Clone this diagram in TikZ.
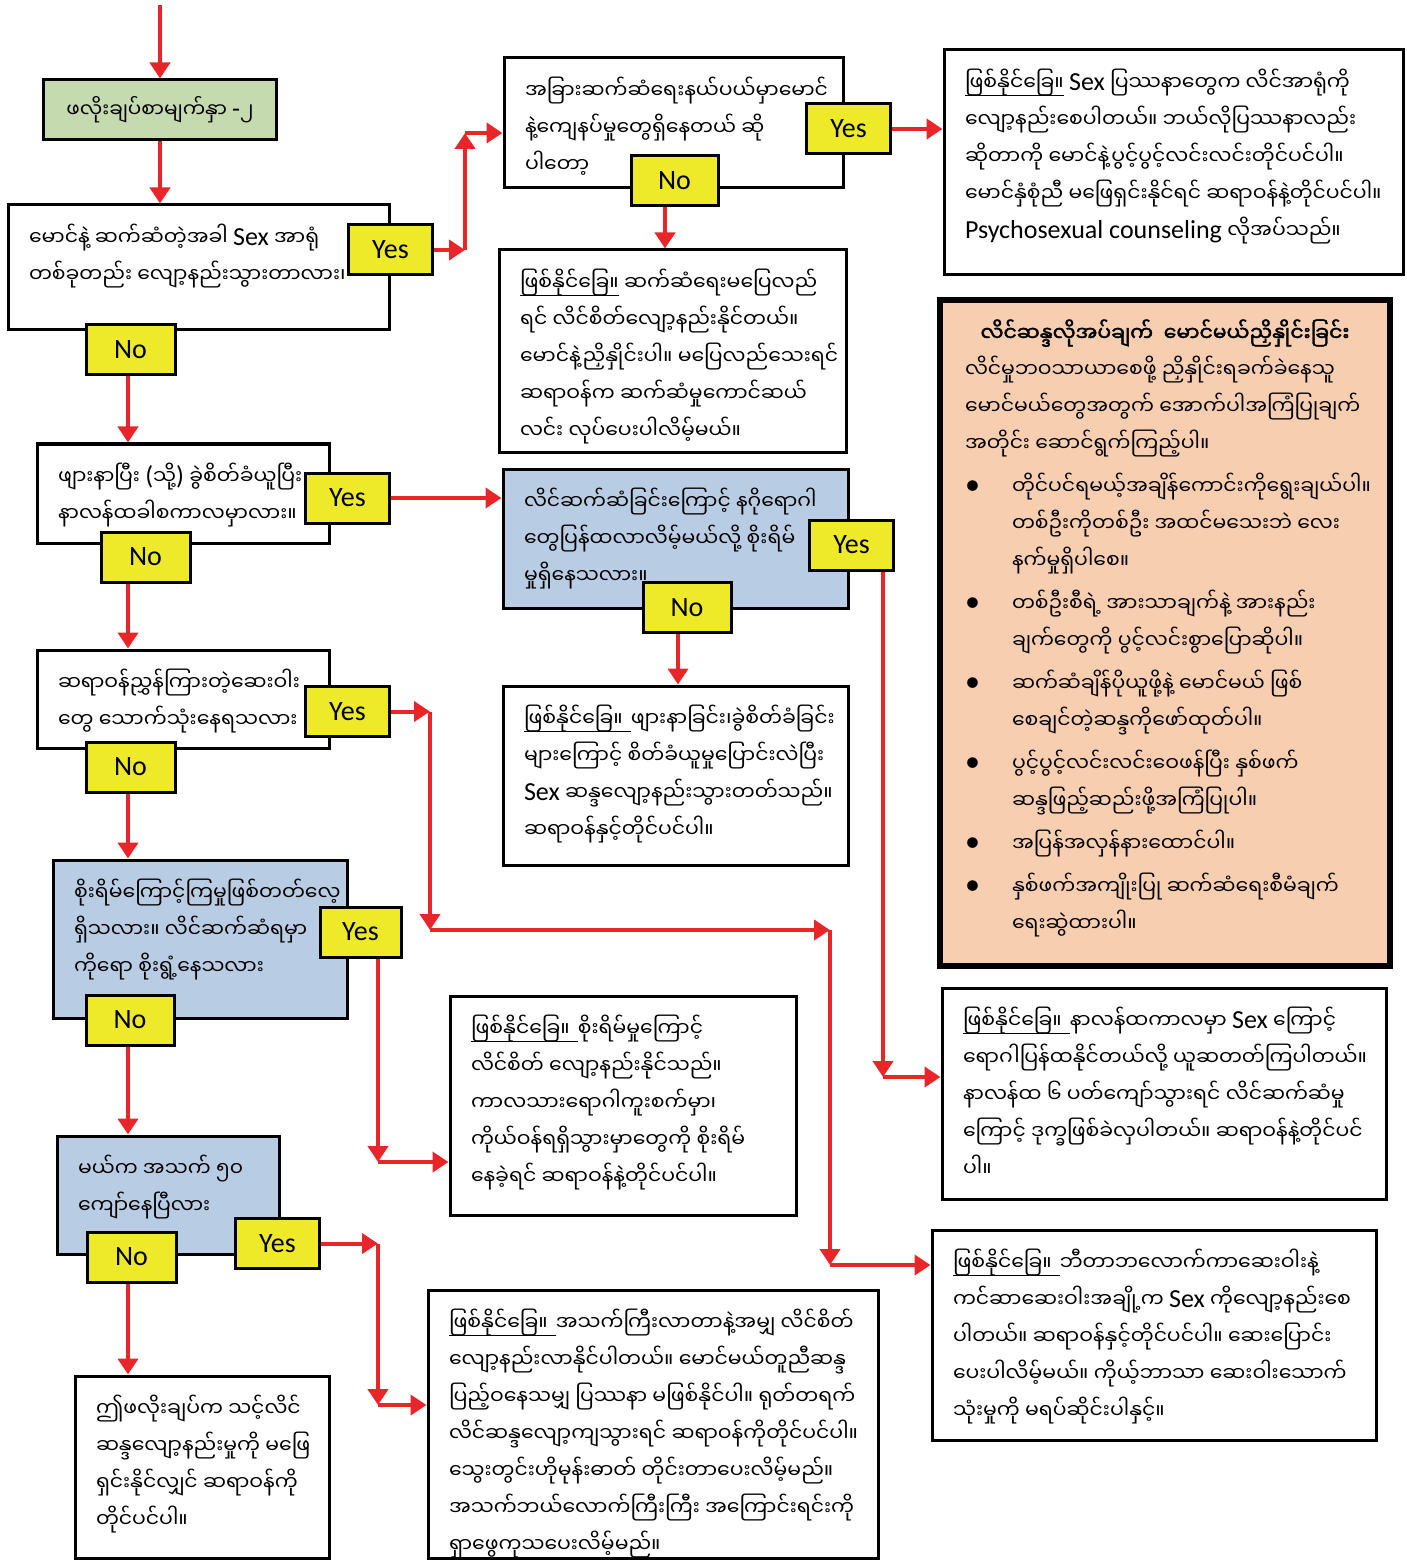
\documentclass[tikz,border=0pt]{standalone}
\usepackage{fontspec}
\usepackage{tikz}
\usetikzlibrary{arrows.meta}
\newfontfamily\mm[Script=Myanmar,AutoFakeBold=2]{Noto Sans Myanmar UI}
\newfontfamily\en{Carlito}
\definecolor{arrowred}{RGB}{232,38,42}
\definecolor{labyellow}{RGB}{238,234,42}
\definecolor{boxgreen}{RGB}{198,218,176}
\definecolor{boxblue}{RGB}{184,204,228}
\definecolor{boxpeach}{RGB}{247,206,176}
\newcommand{\lat}[1]{{\en\fontsize{13}{18.5}\selectfont #1}}
\newcommand{\risk}[1][0pt]{\setbox0\hbox{ဖြစ်နိုင်ခြေ။\hspace{#1}}\rlap{\rule[-2.5pt]{\wd0}{0.6pt}}\box0}
\newcommand{\boxtxt}[3]{\parbox[c][#2][t]{#1}{\mm\fontsize{10.2}{18.5}\selectfont\vspace*{2.5pt}\begin{tabular}[t]{@{}l@{}}#3\end{tabular}}}
\newcommand{\bul}{\makebox[23.5pt][l]{\en\fontsize{15}{15}\selectfont\textbullet}}

\begin{document}
\begin{tikzpicture}[x=0.5pt,y=-0.5pt,
  box/.style={draw,line width=1.5pt,fill=white,inner xsep=10.5pt,inner ysep=5pt},
  yn/.style={draw,line width=1.5pt,fill=labyellow,minimum width=42pt,minimum height=25pt,inner sep=0pt,font=\en\fontsize{14}{14}\selectfont},
  flow/.style={draw=arrowred,line width=2pt,-{Triangle[length=8pt,width=10pt]}}]

\useasboundingbox (0,0) rectangle (1406,1561);

% boxes, left column
\node[box,fill=boxgreen,minimum width=116.5pt,minimum height=30pt,inner sep=0pt,font=\mm\fontsize{10}{13}\selectfont] (B1) at (160,110) {ဖလိုးချပ်စာမျက်နှာ \lat{-}၂};
\node[box] (B2) at (198.5,267.5) {\boxtxt{169.5pt}{52.5pt}{မောင်နဲ့ ဆက်ဆံတဲ့အခါ \lat{Sex} အာရုံ\\ တစ်ခုတည်း လျော့နည်းသွားတာလား၊}};
\node[box] (B7) at (183,493.5) {\boxtxt{125pt}{39.5pt}{ဖျားနာပြီး \lat{(}သို့\lat{)} ခွဲစိတ်ခံယူပြီး\\ နာလန်ထခါစကာလမှာလား။}};
\node[box] (B10) at (183,699) {\boxtxt{125pt}{39pt}{ဆရာဝန်ညွှန်ကြားတဲ့ဆေးဝါး\\ တွေ သောက်သုံးနေရသလား}};
\node[box,fill=boxblue] (B11) at (200,939) {\boxtxt{126pt}{69pt}{စိုးရိမ်ကြောင့်ကြမှုဖြစ်တတ်လေ့\\ ရှိသလား။ လိင်ဆက်ဆံရမှာ\\ ကိုရော စိုးရွံ့နေသလား}};
\node[box,fill=boxblue] (B13) at (168,1195) {\boxtxt{90pt}{49pt}{မယ်က အသက် ၅၀\\ ကျော်နေပြီလား}};
\node[box] (B14) at (202,1467) {\boxtxt{106pt}{81pt}{ဤဖလိုးချပ်က သင့်လိင်\\ ဆန္ဒလျော့နည်းမှုကို မဖြေ\\ ရှင်းနိုင်လျှင် ဆရာဝန်ကို\\ တိုင်ပင်ပါ။}};

% boxes, middle column
\node[box] (B3) at (673.5,123) {\boxtxt{148.5pt}{55pt}{အခြားဆက်ဆံရေးနယ်ပယ်မှာမောင်\\ နဲ့ကျေနပ်မှုတွေရှိနေတယ် ဆို\\ ပါတော့}};
\node[box] (B4) at (672.5,351) {\boxtxt{152.5pt}{91pt}{\risk{} ဆက်ဆံရေးမပြေလည်\\ ရင် လိင်စိတ်လျော့နည်းနိုင်တယ်။\\ မောင်နဲ့ညှိနှိုင်းပါ။ မပြေလည်သေးရင်\\ ဆရာဝန်က ဆက်ဆံမှုကောင်ဆယ်\\ လင်း လုပ်ပေးပါလိမ့်မယ်။}};
\node[box,fill=boxblue] (B8) at (675.5,538.5) {\boxtxt{151.5pt}{59.5pt}{လိင်ဆက်ဆံခြင်းကြောင့် နဂိုရောဂါ\\ တွေပြန်ထလာလိမ့်မယ်လို့ စိုးရိမ်\\ မှုရှိနေသလား။}};
\node[box] (B9) at (675.5,775.5) {\boxtxt{151.5pt}{79.5pt}{\risk[4pt] ဖျားနာခြင်း၊ခွဲစိတ်ခံခြင်း\\ များကြောင့် စိတ်ခံယူမှုပြောင်းလဲပြီး\\ \lat{Sex} ဆန္ဒလျော့နည်းသွားတတ်သည်။\\ ဆရာဝန်နှင့်တိုင်ပင်ပါ။}};
\node[box] (B12) at (623,1105.5) {\boxtxt{152pt}{99.5pt}{\risk[4pt] စိုးရိမ်မှုကြောင့်\\ လိင်စိတ် လျော့နည်းနိုင်သည်။\\ ကာလသားရောဂါကူးစက်မှာ၊\\ ကိုယ်ဝန်ရရှိသွားမှာတွေကို စိုးရိမ်\\ နေခဲ့ရင် ဆရာဝန်နဲ့တိုင်ပင်ပါ။}};
\node[box] (B15) at (653,1424) {\boxtxt{204pt}{124pt}{\risk[4pt] အသက်ကြီးလာတာနဲ့အမျှ လိင်စိတ်\\ လျော့နည်းလာနိုင်ပါတယ်။ မောင်မယ်တူညီဆန္ဒ\\ ပြည့်ဝနေသမျှ ပြဿနာ မဖြစ်နိုင်ပါ။ ရုတ်တရက်\\ လိင်ဆန္ဒလျော့ကျသွားရင် ဆရာဝန်ကိုတိုင်ပင်ပါ။\\ သွေးတွင်းဟိုမုန်းဓာတ် တိုင်းတာပေးလိမ့်မည်။\\ အသက်ဘယ်လောက်ကြီးကြီး အကြောင်းရင်းကို\\ ရှာဖွေကုသပေးလိမ့်မည်။}};

% boxes, right column
\node[box] (B5) at (1173.5,162.5) {\boxtxt{208.5pt}{102.5pt}{\risk{} \lat{Sex} ပြဿနာတွေက လိင်အာရုံကို\\ လျော့နည်းစေပါတယ်။ ဘယ်လိုပြဿနာလည်း\\ ဆိုတာကို မောင်နဲ့ပွင့်ပွင့်လင်းလင်းတိုင်ပင်ပါ။\\ မောင်နှံစုံညီ မဖြေရှင်းနိုင်ရင် ဆရာဝန်နဲ့တိုင်ပင်ပါ။\\ \lat{Psychosexual counseling} လိုအပ်သည်။}};
\node[box,fill=boxpeach,line width=3pt,inner xsep=12.5pt] (B6) at (1165,633) {\boxtxt{200pt}{323pt}{\makebox[200pt][c]{\bfseries လိင်ဆန္ဒလိုအပ်ချက်\ \ မောင်မယ်ညှိနှိုင်းခြင်း}\\ လိင်မှုဘဝသာယာစေဖို့ ညှိနှိုင်းရခက်ခဲနေသူ\\ မောင်မယ်တွေအတွက် အောက်ပါအကြံပြုချက်\\ အတိုင်း ဆောင်ရွက်ကြည့်ပါ။\\[3pt]
  \bul တိုင်ပင်ရမယ့်အချိန်ကောင်းကိုရွေးချယ်ပါ။\\ \hspace*{23.5pt}တစ်ဦးကိုတစ်ဦး အထင်မသေးဘဲ လေး\\ \hspace*{23.5pt}နက်မှုရှိပါစေ။\\[3pt]
  \bul တစ်ဦးစီရဲ့ အားသာချက်နဲ့ အားနည်း\\ \hspace*{23.5pt}ချက်တွေကို ပွင့်လင်းစွာပြောဆိုပါ။\\[3pt]
  \bul ဆက်ဆံချိန်ပိုယူဖို့နဲ့ မောင်မယ် ဖြစ်\\ \hspace*{23.5pt}စေချင်တဲ့ဆန္ဒကိုဖော်ထုတ်ပါ။\\[3pt]
  \bul ပွင့်ပွင့်လင်းလင်းဝေဖန်ပြီး နှစ်ဖက်\\ \hspace*{23.5pt}ဆန္ဒဖြည့်ဆည်းဖို့အကြံပြုပါ။\\[3pt]
  \bul အပြန်အလှန်နားထောင်ပါ။\\[3pt]
  \bul နှစ်ဖက်အကျိုးပြု ဆက်ဆံရေးစီမံချက်\\ \hspace*{23.5pt}ရေးဆွဲထားပါ။}};
\node[box] (B16) at (1164,1093.5) {\boxtxt{201pt}{95.5pt}{\risk[4pt] နာလန်ထကာလမှာ \lat{Sex} ကြောင့်\\ ရောဂါပြန်ထနိုင်တယ်လို့ ယူဆတတ်ကြပါတယ်။\\ နာလန်ထ ၆ ပတ်ကျော်သွားရင် လိင်ဆက်ဆံမှု\\ ကြောင့် ဒုက္ခဖြစ်ခဲလှပါတယ်။ ဆရာဝန်နဲ့တိုင်ပင်\\ ပါ။}};
\node[box] (B17) at (1154,1335) {\boxtxt{201pt}{95pt}{\risk[4pt] ဘီတာဘလောက်ကာဆေးဝါးနဲ့\\ ကင်ဆာဆေးဝါးအချို့က \lat{Sex} ကိုလျော့နည်းစေ\\ ပါတယ်။ ဆရာဝန်နှင့်တိုင်ပင်ပါ။ ဆေးပြောင်း\\ ပေးပါလိမ့်မယ်။ ကိုယ့်ဘာသာ ဆေးဝါးသောက်\\ သုံးမှုကို မရပ်ဆိုင်းပါနှင့်။}};

% yes / no tags
\node[yn] (Y2) at (390.5,250) {Yes};
\node[yn,minimum width=44.5pt] (N2) at (130.5,350) {No};
\node[yn] (Y3) at (848.5,129) {Yes};
\node[yn,minimum width=43.5pt] (N3) at (674.5,181) {No};
\node[yn] (Y7) at (347.5,498) {Yes};
\node[yn,minimum width=44.5pt] (N7) at (145.5,557) {No};
\node[yn] (Y8) at (851.5,545) {Yes};
\node[yn,minimum width=44pt] (N8) at (687,607.5) {No};
\node[yn] (Y10) at (347.5,711.5) {Yes};
\node[yn,minimum width=44.5pt] (N10) at (130.5,767) {No};
\node[yn,minimum width=40.5pt] (Y11) at (360.5,932) {Yes};
\node[yn,minimum width=44pt] (N11) at (130,1020) {No};
\node[yn] (Y13) at (277.5,1243.5) {Yes};
\node[yn,minimum width=44.5pt] (N13) at (131.5,1257) {No};

% lanes and bends
\coordinate (top) at (160,5);
\coordinate (lane) at (128,0);
\coordinate (lane3) at (665,0);
\coordinate (lane8) at (678,0);
\coordinate (j2) at (465,133);
\coordinate (j8) at (883,1077);
\coordinate (j10a) at (430,713);
\coordinate (j10b) at (430,930);
\coordinate (j10c) at (830,930);
\coordinate (j10d) at (830,1265);
\coordinate (j11) at (378,1162);
\coordinate (j13) at (378,1405);

% down the left column
\draw[flow] (top) -- (top |- B1.north);
\draw[flow] (B1.south) -- (B1.south |- B2.north);
\draw[flow] (N2.south -| lane) -- (B7.north -| lane);
\draw[flow] (N7.south -| lane) -- (B10.north -| lane);
\draw[flow] (N10.south -| lane) -- (B11.north -| lane);
\draw[flow] (N11.south -| lane) -- (B13.north -| lane);
\draw[flow] (N13.south -| lane) -- (B14.north -| lane);

% B2 yes
\draw[flow] (Y2.east) -- (Y2.east -| j2);
\draw[flow] (Y2.east -| j2) -- (j2);
\draw[flow] (j2) -- (j2 -| B3.west);
% B3
\draw[flow] (Y3.east) -- (Y3.east -| B5.west);
\draw[flow] (N3.south -| lane3) -- (B4.north -| lane3);
% B7 yes
\draw[flow] (Y7.east) -- (Y7.east -| B8.west);
% B8
\draw[flow] (N8.south -| lane8) -- (B9.north -| lane8);
\draw[flow] (Y8.south -| j8) -- (j8);
\draw[flow] (j8) -- (j8 -| B16.west);
% B10 yes
\draw[flow] (Y10.east) -- (Y10.east -| j10a);
\draw[flow] (Y10.east -| j10a) -- (j10b);
\draw[flow] (j10b) -- (j10c);
\draw[flow] (j10c) -- (j10d);
\draw[flow] (j10d) -- (j10d -| B17.west);
% B11 yes
\draw[flow] (Y11.south -| j11) -- (j11);
\draw[flow] (j11) -- (j11 -| B12.west);
% B13 yes
\draw[flow] (Y13.east) -- (Y13.east -| j13);
\draw[flow] (Y13.east -| j13) -- (j13);
\draw[flow] (j13) -- (j13 -| B15.west);
\end{tikzpicture}
\end{document}
